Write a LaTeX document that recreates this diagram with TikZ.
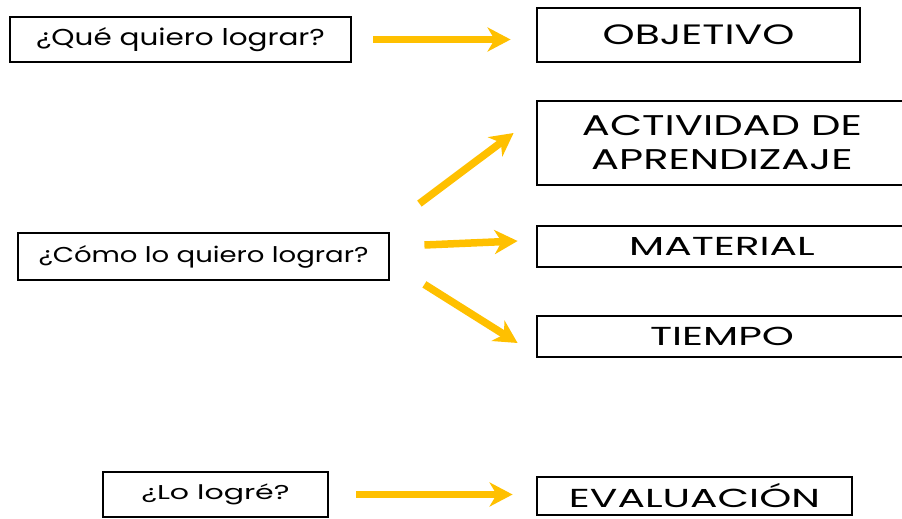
\documentclass[tikz,border=0pt]{standalone}
\usepackage{fontspec}
\setmainfont{Poppins}
\newfontfamily\pregA{Poppins}[FakeStretch=1.28]
\newfontfamily\pregB{Poppins}[FakeStretch=1.5]
\newfontfamily\titA{Poppins}[FakeStretch=1.46]
\newfontfamily\titB{Poppins}[FakeStretch=1.57]
\usetikzlibrary{arrows.meta,calc}
\definecolor{dorado}{RGB}{255,192,0}
\begin{document}
\begin{tikzpicture}[x=1pt,y=-1pt,
    pregunta/.style={draw,line width=2.8pt,inner sep=0pt},
    caja/.style={draw,line width=2.8pt,inner sep=0pt,align=center},
    flecha/.style={draw=dorado,line width=7.5pt,-{Stealth[length=23pt,width=24pt,inset=7pt]}}]
  \useasboundingbox (0,0) rectangle (902,519);
  \node[pregunta,minimum width=341pt,minimum height=45pt,font=\pregA\fontsize{23}{26}\selectfont] (q1) at (180.5,39.5) {¿Qué quiero lograr?};
  \node[pregunta,minimum width=371pt,minimum height=47pt,font=\pregA\fontsize{21.5}{26}\selectfont] (q2) at (203.5,256.5) {¿Cómo lo quiero lograr?};
  \node[pregunta,minimum width=225pt,minimum height=45pt,font=\pregB\fontsize{20}{22}\selectfont] (q3) at (215.5,494.5) {¿Lo logré?};
  \node[caja,minimum width=323pt,minimum height=54pt,font=\titA\fontsize{28}{34}\selectfont] (obj) at (698.5,35) {OBJETIVO};
  \node[caja,minimum width=370pt,minimum height=84pt,font=\titA\fontsize{28.5}{34}\selectfont] (act) at (722,143) {ACTIVIDAD DE\\APRENDIZAJE};
  \node[caja,minimum width=370pt,minimum height=41pt,font=\titB\fontsize{26}{28}\selectfont] (mat) at (722,246.5) {MATERIAL};
  \node[caja,minimum width=370pt,minimum height=41pt,font=\titB\fontsize{26}{28}\selectfont] (tie) at (722,336.5) {TIEMPO};
  \node[caja,minimum width=315pt,minimum height=38pt,font=\titB\fontsize{26}{28}\selectfont] (ev) at (694.5,496) {EVALUACIÓN};
  \draw[flecha,shorten <=21pt,shorten >=25pt] (q1.east) -- (q1.east -| obj.west);
  \draw[flecha] ($(q2.north east)+(29,-28)$) -- ($(act.west)+(-22,-10)$);
  \draw[flecha] ($(q2.east)+(34,-11.5)$) -- ($(mat.west)+(-18,-5.5)$);
  \draw[flecha] ($(q2.south east)+(34,3)$) -- ($(tie.west)+(-18,6.5)$);
  \draw[flecha,shorten <=27pt,shorten >=23pt] (q3.east) -- (q3.east -| ev.west);
\end{tikzpicture}
\end{document}
